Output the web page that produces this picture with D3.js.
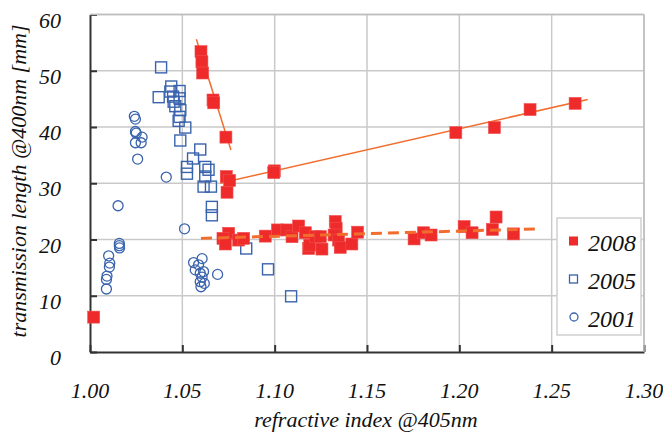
<!DOCTYPE html>
<html>
<head>
<meta charset="utf-8">
<script src="https://cdn.jsdelivr.net/npm/d3@7"></script>
<style>
  body { margin: 0; background: #fff; }
</style>
</head>
<body>
<div class="chart"></div>
<script>
// 2008 samples: [refractive index, transmission length]
var data2008 = [
  [1.002, 6.2],
  [1.0601, 53.4], [1.0606, 51.6], [1.061, 49.6], [1.0666, 44.8], [1.067, 44.3], [1.0736, 38.2],
  [1.0738, 31.2], [1.0756, 30.5], [1.0742, 28.4],
  [1.0998, 32.2], [1.0995, 31.9], [1.1981, 39.0], [1.219, 39.9], [1.2383, 43.1], [1.2627, 44.2],
  [1.0751, 21.1], [1.072, 20.2], [1.0733, 19.2], [1.0805, 19.9], [1.0832, 20.2], [1.0949, 20.6],
  [1.1015, 21.7], [1.1066, 21.7], [1.1094, 20.5], [1.113, 22.4], [1.1166, 21.2], [1.1184, 18.4],
  [1.119, 19.0], [1.122, 20.5], [1.1247, 20.5], [1.1256, 18.3], [1.1328, 23.2], [1.1333, 22.0],
  [1.1322, 20.8], [1.1346, 19.9], [1.1355, 18.6], [1.1418, 19.2], [1.1449, 21.3], [1.1755, 20.1],
  [1.1806, 21.2], [1.1847, 20.8], [1.2026, 22.3], [1.2069, 21.2], [1.2179, 21.8], [1.2199, 24.0],
  [1.2293, 21.0]
];
var data2005 = [
  [1.0385, 50.6], [1.0372, 45.3], [1.044, 47.2], [1.0435, 46.3], [1.045, 45.4], [1.0453, 44.5],
  [1.0462, 43.7], [1.0485, 46.4], [1.0485, 45.1], [1.0489, 43.0], [1.0485, 41.8], [1.048, 41.1],
  [1.0516, 39.9], [1.0489, 37.6], [1.0597, 36.0], [1.0558, 34.4], [1.0525, 32.9], [1.0525, 31.7],
  [1.0624, 32.9], [1.0642, 32.4], [1.0624, 31.2], [1.0615, 29.4], [1.0655, 29.4], [1.066, 25.8],
  [1.066, 24.3], [1.0846, 18.4], [1.0964, 14.7], [1.1089, 9.9]
];
var data2001 = [
  [1.024, 41.9], [1.0246, 41.4], [1.0246, 39.2], [1.025, 38.9], [1.0246, 37.2], [1.0282, 38.2],
  [1.0277, 37.2], [1.0258, 34.3], [1.0413, 31.1], [1.0152, 26.0], [1.0159, 19.3], [1.0159, 18.9],
  [1.016, 18.5], [1.0101, 17.1], [1.0107, 15.8], [1.0105, 15.1], [1.0092, 13.5], [1.0089, 12.9],
  [1.0089, 11.2], [1.0512, 21.9], [1.0561, 15.9], [1.0607, 16.6], [1.057, 14.6], [1.0588, 15.5],
  [1.0597, 14.0], [1.0607, 13.3], [1.0597, 12.5], [1.0601, 11.6], [1.0615, 14.3], [1.0619, 12.2],
  [1.0691, 13.8]
];
// fitted trend lines (endpoints)
var fitSteep = [[1.0576, 55.6], [1.0763, 35.9]];
var fitUpper = [[1.0705, 30.0], [1.2695, 44.9]];
var fitLower = [[1.0601, 20.2], [1.2428, 21.9]];

var xTicks = [1.00, 1.05, 1.10, 1.15, 1.20, 1.25, 1.30];
var yTicks = [0, 10, 20, 30, 40, 50, 60];
var legendLabels = ["2008", "2005", "2001"];

var W = 663, H = 432;
var margin = {top: 14.5, right: 19, bottom: 80, left: 90},
    width = W - margin.left - margin.right,
    height = H - margin.top - margin.bottom;

function serif(sel, size) {
  return sel.attr("font-size", size)
    .style("font-family", "'Liberation Serif'")
    .style("font-style", "italic")
    .attr("fill", "#111");
}

var x = d3.scaleLinear().domain([1.0, 1.3]).range([0, width]);
var y = d3.scaleLinear().domain([0, 60]).range([height, 0]);

var root = d3.select(".chart").append("svg")
    .attr("width", W)
    .attr("height", H);
var svg = root.append("g")
    .attr("transform", "translate(" + margin.left + "," + margin.top + ")");

// grid
svg.append("g").selectAll("line").data(xTicks.slice(1)).enter().append("line")
    .attr("x1", function(d) { return x(d); }).attr("x2", function(d) { return x(d); })
    .attr("y1", 0).attr("y2", height)
    .attr("stroke", "#c9c9c9").attr("stroke-width", 1.5);
svg.append("g").selectAll("line").data(yTicks.slice(1)).enter().append("line")
    .attr("y1", function(d) { return y(d); }).attr("y2", function(d) { return y(d); })
    .attr("x1", 0).attr("x2", width)
    .attr("stroke", "#c9c9c9").attr("stroke-width", 1.5);

// axes (ticks pointing inward), labels drawn as plain texts below
var xAxis = svg.append("g")
    .attr("transform", "translate(0," + height + ")")
    .call(d3.axisBottom(x).tickValues(xTicks).tickSizeInner(-7).tickSizeOuter(0).tickFormat(""));
var yAxis = svg.append("g")
    .call(d3.axisLeft(y).tickValues(yTicks).tickSizeInner(-7).tickSizeOuter(0).tickFormat(""));
[xAxis, yAxis].forEach(function(a) {
  a.select(".domain").attr("stroke", "#333").attr("stroke-width", 2);
  a.selectAll(".tick line").attr("stroke", "#333").attr("stroke-width", 2);
  a.selectAll(".tick text").remove();
});
var fmtX = d3.format(".2f");
serif(root.append("g").selectAll("text").data(xTicks).enter().append("text"), 22)
    .attr("x", function(d) { return margin.left + x(d); })
    .attr("y", margin.top + height + 46)
    .attr("text-anchor", "middle")
    .text(function(d) { return fmtX(d); });
serif(root.append("g").selectAll("text").data(yTicks).enter().append("text"), 22)
    .attr("x", margin.left - 29)
    .attr("y", function(d) { return margin.top + y(d) + 13; })
    .attr("text-anchor", "end")
    .text(function(d) { return d; });

// trend lines
var line = d3.line().x(function(d) { return x(d[0]); }).y(function(d) { return y(d[1]); });
svg.append("path").datum(fitSteep).attr("d", line)
    .attr("fill", "none").attr("stroke", "#f26d2d").attr("stroke-width", 1.5);
svg.append("path").datum(fitUpper).attr("d", line)
    .attr("fill", "none").attr("stroke", "#f26d2d").attr("stroke-width", 1.5);

// points
var blue = "#3a63ad", red = "#ee2a2a";
svg.append("g").selectAll("circle").data(data2001).enter().append("circle")
    .attr("cx", function(d) { return x(d[0]); })
    .attr("cy", function(d) { return y(d[1]); })
    .attr("r", 5).attr("fill", "none").attr("stroke", blue).attr("stroke-width", 1.3);
svg.append("g").selectAll("rect").data(data2005).enter().append("rect")
    .attr("x", function(d) { return x(d[0]) - 5.5; })
    .attr("y", function(d) { return y(d[1]) - 5.5; })
    .attr("width", 11).attr("height", 11)
    .attr("fill", "none").attr("stroke", blue).attr("stroke-width", 1.4);
svg.append("g").selectAll("rect").data(data2008).enter().append("rect")
    .attr("x", function(d) { return x(d[0]) - 6; })
    .attr("y", function(d) { return y(d[1]) - 6; })
    .attr("width", 12).attr("height", 12)
    .attr("fill", red).attr("stroke", "#f05050").attr("stroke-width", 0.6);

svg.append("path").datum(fitLower).attr("d", line)
    .attr("fill", "none").attr("stroke", "#f26d2d").attr("stroke-width", 3)
    .attr("stroke-dasharray", "11,6");

// frame top/right
svg.append("line").attr("x1", 0).attr("x2", width).attr("y1", 0).attr("y2", 0)
    .attr("stroke", "#bdbdbd").attr("stroke-width", 1.5);
svg.append("line").attr("x1", width).attr("x2", width).attr("y1", 0).attr("y2", height)
    .attr("stroke", "#bdbdbd").attr("stroke-width", 1.5);
svg.selectAll(".domain").raise();

// legend
var lg = root.append("g").attr("transform", "translate(557,218)");
lg.append("rect").attr("width", 84).attr("height", 117)
    .attr("fill", "#fff").attr("stroke", "#cfcfcf").attr("stroke-width", 1.5);
legendLabels.forEach(function(lbl, i) {
  var cy = 23 + i * 38;
  if (i === 0) {
    lg.append("rect").attr("x", 12).attr("y", cy - 4.5).attr("width", 9).attr("height", 9).attr("fill", red);
  } else if (i === 1) {
    lg.append("rect").attr("x", 12.5).attr("y", cy - 4).attr("width", 8).attr("height", 8)
      .attr("fill", "none").attr("stroke", blue).attr("stroke-width", 1.3);
  } else {
    lg.append("circle").attr("cx", 17).attr("cy", cy).attr("r", 4)
      .attr("fill", "none").attr("stroke", blue).attr("stroke-width", 1.3);
  }
});
serif(root.append("g").selectAll("text").data(legendLabels).enter().append("text"), 24)
    .attr("x", 588)
    .attr("y", function(d, i) { return 218 + 33 + i * 38; })
    .text(function(d) { return d; });

// axis titles
serif(root.append("text"), 22).attr("x", 366).attr("y", 427)
    .attr("text-anchor", "middle")
    .text("refractive index @405nm");
serif(root.append("text"), 22)
    .attr("transform", "translate(26,181) rotate(-90)")
    .attr("text-anchor", "middle")
    .text("transmission length @400nm [mm]");
</script>
</body>
</html>
